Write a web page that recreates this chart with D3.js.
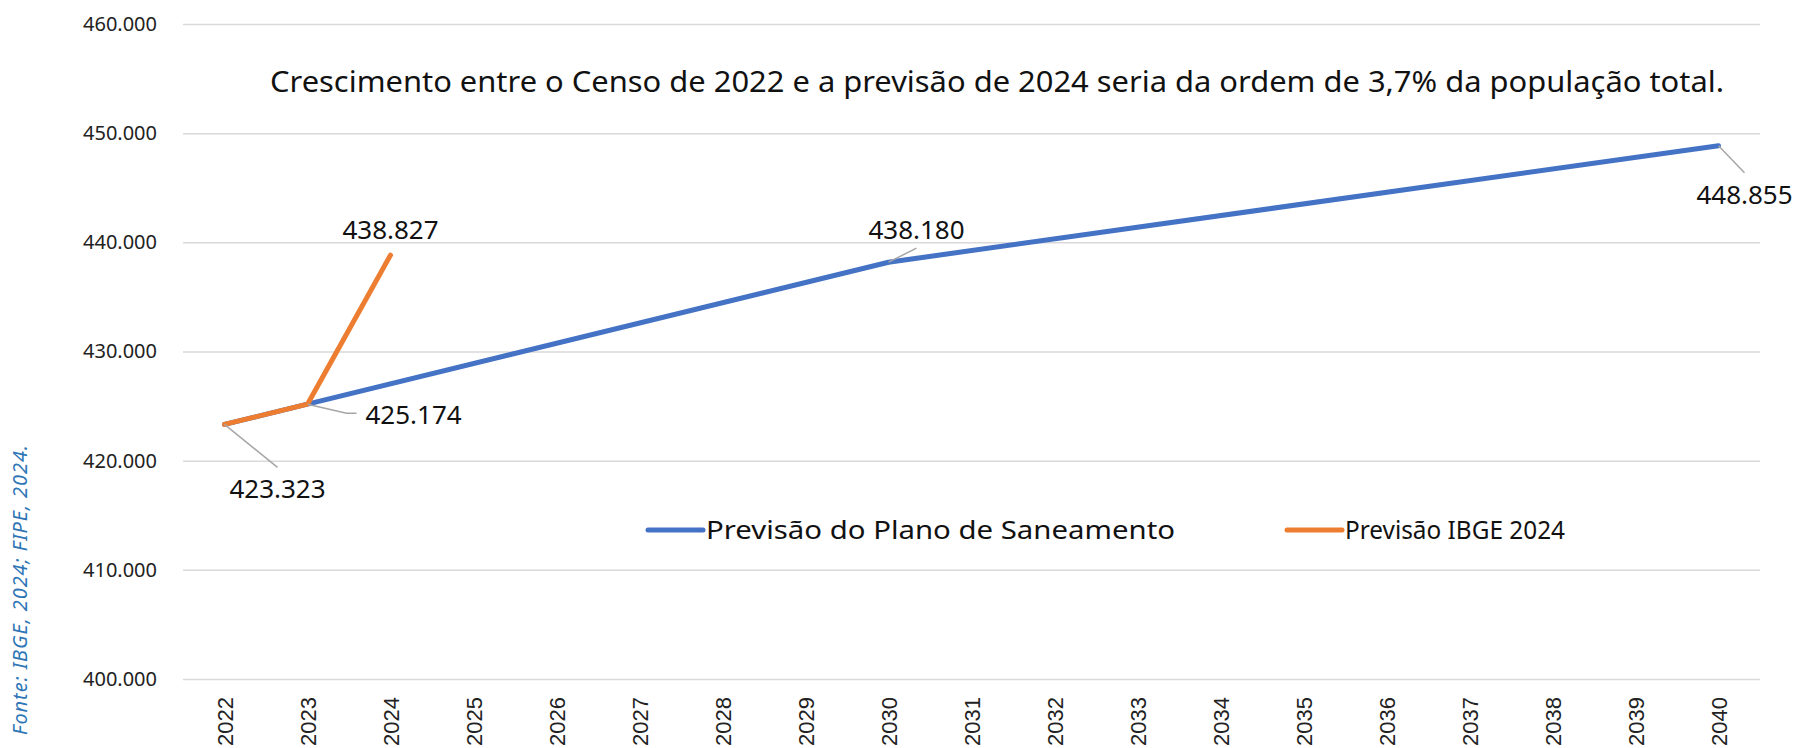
<!DOCTYPE html>
<html>
<head>
<meta charset="utf-8">
<script src="https://cdn.jsdelivr.net/npm/d3@7"></script>
<style>
  html, body { margin: 0; padding: 0; background: #fff; }
  svg { display: block; }
</style>
</head>
<body>
<div id="chart"></div>
<script>
(function() {
    'use strict';

    // data ==========================================
    const years = ['2022', '2023', '2024', '2025', '2026', '2027', '2028', '2029', '2030',
        '2031', '2032', '2033', '2034', '2035', '2036', '2037', '2038', '2039', '2040'];
    const yTicks = [400000, 410000, 420000, 430000, 440000, 450000, 460000];

    // only the years that carry a value; the line joins them
    const planoYears = ['2022', '2023', '2030', '2040'];
    const planoValues = [423323, 425174, 438180, 448855];
    const ibgeYears = ['2022', '2023', '2024'];
    const ibgeValues = [423323, 425174, 438827];

    const seriesNames = ['Previsão do Plano de Saneamento', 'Previsão IBGE 2024'];
    const titleText = 'Crescimento entre o Censo de 2022 e a previsão de 2024 seria da ordem de 3,7% da população total.';
    const sourceText = 'Fonte: IBGE, 2024; FIPE, 2024.';

    const colors = ['#4472c4', '#ed7d31'];
    const font = "'Noto Sans', Lato, sans-serif";

    const W = 1796, H = 748;
    const plot = { left: 183, right: 1760, top: 24, bottom: 679 };

    const locale = d3.formatLocale({ decimal: ',', thousands: '.', grouping: [3], currency: ['R$', ''] });
    const fmt = locale.format(',d');

    const svg = d3.select('#chart').append('svg')
        .attr('width', W)
        .attr('height', H);

    const x = d3.scalePoint().domain(years).range([plot.left, plot.right]).padding(0.5);
    const y = d3.scaleLinear().domain([400000, 460000]).range([plot.bottom, plot.top]);

    // grid + y labels ===============================
    const yAxis = svg.append('g')
        .attr('transform', `translate(${plot.left},0)`)
        .call(d3.axisLeft(y).tickValues(yTicks).tickSize(-(plot.right - plot.left)).tickPadding(26).tickFormat(fmt));
    yAxis.select('.domain').remove();
    yAxis.selectAll('.tick line').attr('stroke', '#d9d9d9').attr('stroke-width', 1.5);
    yAxis.selectAll('.tick text')
        .attr('fill', '#222')
        .style('font-family', font)
        .style('font-size', '20px');

    // x labels ======================================
    const xAxis = svg.append('g')
        .attr('transform', `translate(0,${plot.bottom})`)
        .call(d3.axisBottom(x).tickSize(0).tickPadding(0));
    xAxis.select('.domain').remove();
    xAxis.selectAll('.tick text')
        .attr('transform', 'rotate(-90)')
        .attr('x', -18)
        .attr('y', 0)
        .attr('dy', '0.35em')
        .attr('text-anchor', 'end')
        .attr('fill', '#222')
        .style('font-family', "'Liberation Sans', Arial, sans-serif")
        .style('font-size', '22px');

    // lines =========================================
    const series = [
        { name: seriesNames[0], years: planoYears, values: planoValues, color: colors[0] },
        { name: seriesNames[1], years: ibgeYears, values: ibgeValues, color: colors[1] }
    ];

    const line = d3.line()
        .x(d => x(d[0]))
        .y(d => y(d[1]));

    svg.append('g').selectAll('path').data(series).enter().append('path')
        .attr('d', d => line(d3.zip(d.years, d.values)))
        .attr('fill', 'none')
        .attr('stroke', d => d.color)
        .attr('stroke-width', 5)
        .attr('stroke-linejoin', 'round')
        .attr('stroke-linecap', 'round');

    // data labels ===================================
    // placement of each label relative to its point: text (tx, ty), leader path points
    const labels = [
        { s: 1, year: '2022', tx: 53, ty: 74, anchor: 'middle', leader: [[53, 43]] },
        { s: 1, year: '2023', tx: 58, ty: 20, anchor: 'start', leader: [[39, 9], [49, 9]] },
        { s: 1, year: '2024', tx: 0, ty: -16, anchor: 'middle', leader: null },
        { s: 0, year: '2030', tx: 28, ty: -23, anchor: 'middle', leader: [[28, -14]] },
        { s: 0, year: '2040', tx: 26, ty: 58, anchor: 'middle', leader: [[26, 27]] }
    ];

    const lbl = svg.append('g');
    labels.forEach(l => {
        const ser = series[l.s];
        const v = ser.values[ser.years.indexOf(l.year)];
        const px = x(l.year), py = y(v);
        if (l.leader) {
            const pts = [[px, py]].concat(l.leader.map(p => [px + p[0], py + p[1]]));
            lbl.append('path')
                .attr('d', d3.line()(pts))
                .attr('fill', 'none')
                .attr('stroke', '#a6a6a6')
                .attr('stroke-width', 1.5);
        }
        lbl.append('text')
            .attr('x', px + l.tx)
            .attr('y', py + l.ty)
            .attr('text-anchor', l.anchor)
            .attr('fill', '#111')
            .style('font-family', font)
            .style('font-size', '26px')
            .text(fmt(v));
    });

    // title =========================================
    svg.append('text')
        .attr('x', 270)
        .attr('y', 92)
        .attr('textLength', 1454)
        .attr('lengthAdjust', 'spacingAndGlyphs')
        .attr('fill', '#111')
        .style('font-family', font)
        .style('font-size', '29px')
        .text(titleText);

    // legend ========================================
    const legendX = [648, 1287];
    const legendLen = [469, 220];
    const legend = svg.append('g').selectAll('g').data(series).enter().append('g')
        .attr('transform', (d, i) => `translate(${legendX[i]},530)`);
    legend.append('line')
        .attr('x1', 0).attr('x2', 55)
        .attr('stroke', d => d.color)
        .attr('stroke-width', 5)
        .attr('stroke-linecap', 'round');
    legend.append('text')
        .attr('x', 58)
        .attr('dy', '0.35em')
        .attr('textLength', (d, i) => legendLen[i])
        .attr('lengthAdjust', 'spacingAndGlyphs')
        .attr('fill', '#111')
        .style('font-family', font)
        .style('font-size', '26px')
        .text(d => d.name);

    // source ========================================
    svg.append('text')
        .attr('transform', 'translate(27,735) rotate(-90)')
        .attr('textLength', 290)
        .attr('lengthAdjust', 'spacing')
        .attr('fill', '#2e75b6')
        .style('font-family', font)
        .style('font-size', '20px')
        .style('font-style', 'italic')
        .text(sourceText);
}());
</script>
</body>
</html>
